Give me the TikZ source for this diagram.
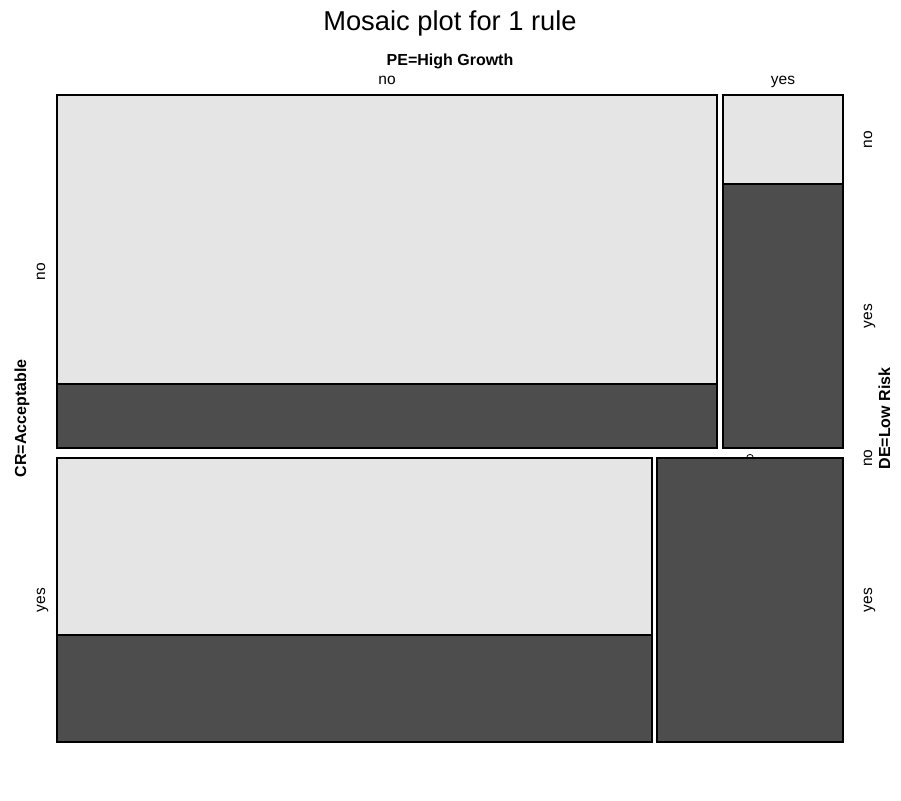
\documentclass[tikz,border=0pt]{standalone}
\usepackage{fontspec}
\setmainfont{Liberation Sans}
\definecolor{cellhi}{HTML}{E5E5E5}
\definecolor{celllo}{HTML}{4D4D4D}

\begin{document}
\begin{tikzpicture}[x=1pt, y=-1pt]
	\tikzstyle{cell} = [draw=black, line width=1.2pt]
	\tikzstyle{lab} = [inner sep=0pt, font=\fontsize{15.5}{18}\selectfont]
	\tikzstyle{varlab} = [inner sep=0pt, font=\fontsize{16}{19}\selectfont\bfseries]
	\useasboundingbox (0,0) rectangle (901,800);
	
	% zero cell marker
	\draw[line width=0.8pt, fill=white] (750,457.7) circle (3.3);
	
	% cells
	\fill[cellhi] (57,95) rectangle (717,384); \fill[celllo] (57,384) rectangle (717,448); \draw[cell] (57,95) rectangle (717,448); \draw[cell] (57,384) -- (717,384);
	\fill[cellhi] (723,95) rectangle (843,184); \fill[celllo] (723,184) rectangle (843,448); \draw[cell] (723,95) rectangle (843,448); \draw[cell] (723,184) -- (843,184);
	\fill[cellhi] (57,458) rectangle (652,635); \fill[celllo] (57,635) rectangle (652,742); \draw[cell] (57,458) rectangle (652,742); \draw[cell] (57,635) -- (652,635);
	\fill[celllo] (657,458) rectangle (843,742); \draw[cell] (657,458) rectangle (843,742);
	
	% labels
	\node[inner sep=0pt, anchor=base, font=\fontsize{27.3}{31}\selectfont] (title) at (450,30.7) {Mosaic plot for 1 rule};
	\node[varlab, anchor=base] (pe) at (450,65) {PE=High Growth};
	\node[lab, anchor=base] (pe-no) at (387,84) {no}; \node[lab, anchor=base] (pe-yes) at (783,84) {yes};
	\node[varlab, rotate=90, anchor=base] (cr) at (26,418.5) {CR=Acceptable};
	\node[lab, rotate=90, anchor=base] (cr-no) at (45,271.5) {no}; \node[lab, rotate=90, anchor=base] (cr-yes) at (45,600) {yes};
	\node[varlab, rotate=90, anchor=base] (de) at (890,418.5) {DE=Low Risk};
	\node[lab, rotate=90, anchor=base] (de-no1) at (872,139.5) {no}; \node[lab, rotate=90, anchor=base] (de-yes1) at (872,316) {yes};
	\node[lab, rotate=90, anchor=base] (de-no2) at (872,458) {no}; \node[lab, rotate=90, anchor=base] (de-yes2) at (872,600) {yes};
\end{tikzpicture}
\end{document}
